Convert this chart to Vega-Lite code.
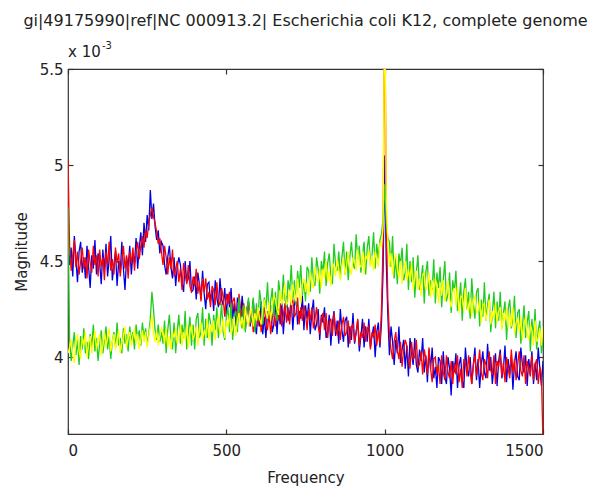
{
  "$schema": "https://vega.github.io/schema/vega-lite/v6.json",
  "width": 475,
  "height": 365,
  "autosize": {"type": "none"},
  "padding": {"left": 68, "top": 69, "right": 47, "bottom": 53},
  "background": "white",
  "title": {"text": "gi|49175990|ref|NC 000913.2| Escherichia coli K12, complete genome", "font": "DejaVu Sans", "fontSize": 16, "fontWeight": "normal", "color": "#222", "anchor": "middle", "offset": 12},
  "config": {
    "view": {"stroke": "#333", "strokeWidth": 1.2},
    "axis": {"labelFont": "DejaVu Sans", "labelFontSize": 15, "labelColor": "#222", "titleFont": "DejaVu Sans", "titleFontSize": 15, "titleFontWeight": "normal", "titleColor": "#222", "grid": false, "domain": false, "tickColor": "#333", "tickSize": -5, "tickWidth": 1.2}
  },
  "data": {"values": [
    {"f":0,"b":4.60,"r":5.03,"g":4.78,"y":4.02},
    {"f":5,"b":4.48,"r":4.58,"g":4.10,"y":4.05},
    {"f":10,"b":4.57,"r":4.45,"g":3.98,"y":4.09},
    {"f":15,"b":4.42,"r":4.53,"g":4.06,"y":4.01},
    {"f":20,"b":4.63,"r":4.61,"g":4.13,"y":3.97},
    {"f":25,"b":4.51,"r":4.47,"g":4.01,"y":4.08},
    {"f":30,"b":4.39,"r":4.55,"g":4.09,"y":4.12},
    {"f":35,"b":4.55,"r":4.43,"g":3.96,"y":4.03},
    {"f":40,"b":4.60,"r":4.50,"g":4.11,"y":3.99},
    {"f":45,"b":4.44,"r":4.57,"g":4.04,"y":4.10},
    {"f":50,"b":4.52,"r":4.46,"g":4.15,"y":4.06},
    {"f":55,"b":4.41,"r":4.52,"g":4.02,"y":4.13},
    {"f":60,"b":4.58,"r":4.41,"g":4.08,"y":4.00},
    {"f":65,"b":4.47,"r":4.56,"g":3.99,"y":4.07},
    {"f":70,"b":4.36,"r":4.49,"g":4.12,"y":4.11},
    {"f":75,"b":4.53,"r":4.44,"g":4.05,"y":4.02},
    {"f":80,"b":4.46,"r":4.58,"g":4.17,"y":4.08},
    {"f":85,"b":4.61,"r":4.48,"g":4.03,"y":4.14},
    {"f":90,"b":4.43,"r":4.53,"g":4.10,"y":4.04},
    {"f":95,"b":4.54,"r":4.42,"g":3.98,"y":4.09},
    {"f":100,"b":4.49,"r":4.56,"g":4.07,"y":4.12},
    {"f":105,"b":4.38,"r":4.47,"g":4.14,"y":4.01},
    {"f":110,"b":4.56,"r":4.52,"g":4.02,"y":4.06},
    {"f":115,"b":4.45,"r":4.40,"g":4.09,"y":4.13},
    {"f":120,"b":4.59,"r":4.55,"g":4.16,"y":4.05},
    {"f":125,"b":4.42,"r":4.48,"g":4.04,"y":4.10},
    {"f":130,"b":4.51,"r":4.60,"g":4.11,"y":4.15},
    {"f":135,"b":4.63,"r":4.45,"g":3.99,"y":4.03},
    {"f":140,"b":4.40,"r":4.51,"g":4.08,"y":4.08},
    {"f":145,"b":4.48,"r":4.43,"g":4.13,"y":4.12},
    {"f":150,"b":4.55,"r":4.57,"g":4.05,"y":4.04},
    {"f":155,"b":4.37,"r":4.49,"g":4.18,"y":4.09},
    {"f":160,"b":4.50,"r":4.54,"g":4.06,"y":4.14},
    {"f":165,"b":4.44,"r":4.42,"g":4.10,"y":4.02},
    {"f":170,"b":4.60,"r":4.50,"g":4.02,"y":4.07},
    {"f":175,"b":4.46,"r":4.58,"g":4.15,"y":4.11},
    {"f":180,"b":4.35,"r":4.46,"g":4.07,"y":4.16},
    {"f":185,"b":4.52,"r":4.53,"g":4.12,"y":4.05},
    {"f":190,"b":4.47,"r":4.41,"g":4.03,"y":4.10},
    {"f":195,"b":4.58,"r":4.55,"g":4.16,"y":4.13},
    {"f":200,"b":4.43,"r":4.49,"g":4.08,"y":4.06},
    {"f":205,"b":4.54,"r":4.57,"g":4.13,"y":4.11},
    {"f":210,"b":4.49,"r":4.45,"g":4.04,"y":4.15},
    {"f":215,"b":4.62,"r":4.55,"g":4.17,"y":4.07},
    {"f":220,"b":4.46,"r":4.60,"g":4.09,"y":4.12},
    {"f":225,"b":4.57,"r":4.51,"g":4.14,"y":4.04},
    {"f":230,"b":4.65,"r":4.58,"g":4.06,"y":4.09},
    {"f":235,"b":4.53,"r":4.63,"g":4.18,"y":4.14},
    {"f":240,"b":4.70,"r":4.57,"g":4.10,"y":4.08},
    {"f":245,"b":4.60,"r":4.66,"g":4.15,"y":4.13},
    {"f":250,"b":4.74,"r":4.62,"g":4.07,"y":4.05},
    {"f":255,"b":4.66,"r":4.70,"g":4.12,"y":4.11},
    {"f":260,"b":4.87,"r":4.74,"g":4.20,"y":4.16},
    {"f":265,"b":4.72,"r":4.78,"g":4.34,"y":4.22},
    {"f":270,"b":4.80,"r":4.73,"g":4.25,"y":4.12},
    {"f":275,"b":4.68,"r":4.70,"g":4.14,"y":4.08},
    {"f":280,"b":4.61,"r":4.65,"g":4.09,"y":4.14},
    {"f":285,"b":4.66,"r":4.59,"g":4.17,"y":4.06},
    {"f":290,"b":4.54,"r":4.62,"g":4.08,"y":4.11},
    {"f":295,"b":4.60,"r":4.55,"g":4.13,"y":4.15},
    {"f":300,"b":4.58,"r":4.48,"g":4.07,"y":4.13},
    {"f":305,"b":4.48,"r":4.58,"g":4.19,"y":4.07},
    {"f":310,"b":4.43,"r":4.52,"g":4.02,"y":4.15},
    {"f":315,"b":4.52,"r":4.43,"g":4.14,"y":4.05},
    {"f":320,"b":4.58,"r":4.52,"g":4.22,"y":4.11},
    {"f":325,"b":4.47,"r":4.46,"g":4.10,"y":4.04},
    {"f":330,"b":4.41,"r":4.56,"g":4.04,"y":4.13},
    {"f":335,"b":4.52,"r":4.42,"g":4.18,"y":4.10},
    {"f":340,"b":4.37,"r":4.46,"g":4.02,"y":4.15},
    {"f":345,"b":4.47,"r":4.50,"g":4.14,"y":4.07},
    {"f":350,"b":4.52,"r":4.39,"g":4.22,"y":4.10},
    {"f":355,"b":4.48,"r":4.46,"g":4.07,"y":4.17},
    {"f":360,"b":4.39,"r":4.35,"g":4.17,"y":4.06},
    {"f":365,"b":4.34,"r":4.49,"g":4.10,"y":4.13},
    {"f":370,"b":4.50,"r":4.43,"g":4.24,"y":4.09},
    {"f":375,"b":4.39,"r":4.38,"g":4.04,"y":4.16},
    {"f":380,"b":4.41,"r":4.48,"g":4.13,"y":4.05},
    {"f":385,"b":4.50,"r":4.37,"g":4.21,"y":4.13},
    {"f":390,"b":4.34,"r":4.34,"g":4.06,"y":4.17},
    {"f":395,"b":4.35,"r":4.42,"g":4.17,"y":4.09},
    {"f":400,"b":4.42,"r":4.37,"g":4.04,"y":4.12},
    {"f":405,"b":4.30,"r":4.46,"g":4.20,"y":4.16},
    {"f":410,"b":4.44,"r":4.33,"g":4.23,"y":4.06},
    {"f":415,"b":4.38,"r":4.39,"g":4.10,"y":4.15},
    {"f":420,"b":4.30,"r":4.29,"g":4.13,"y":4.18},
    {"f":425,"b":4.45,"r":4.41,"g":4.26,"y":4.09},
    {"f":430,"b":4.33,"r":4.34,"g":4.06,"y":4.14},
    {"f":435,"b":4.25,"r":4.41,"g":4.20,"y":4.11},
    {"f":440,"b":4.38,"r":4.30,"g":4.10,"y":4.20},
    {"f":445,"b":4.39,"r":4.34,"g":4.23,"y":4.09},
    {"f":450,"b":4.29,"r":4.26,"g":4.18,"y":4.17},
    {"f":455,"b":4.35,"r":4.37,"g":4.06,"y":4.13},
    {"f":460,"b":4.24,"r":4.35,"g":4.22,"y":4.19},
    {"f":465,"b":4.40,"r":4.27,"g":4.14,"y":4.09},
    {"f":470,"b":4.31,"r":4.39,"g":4.26,"y":4.16},
    {"f":475,"b":4.26,"r":4.29,"g":4.10,"y":4.22},
    {"f":480,"b":4.41,"r":4.27,"g":4.17,"y":4.12},
    {"f":485,"b":4.30,"r":4.36,"g":4.28,"y":4.14},
    {"f":490,"b":4.27,"r":4.31,"g":4.13,"y":4.20},
    {"f":495,"b":4.36,"r":4.21,"g":4.09,"y":4.10},
    {"f":500,"b":4.21,"r":4.33,"g":4.21,"y":4.19},
    {"f":505,"b":4.33,"r":4.28,"g":4.26,"y":4.16},
    {"f":510,"b":4.26,"r":4.34,"g":4.13,"y":4.22},
    {"f":515,"b":4.36,"r":4.21,"g":4.28,"y":4.12},
    {"f":520,"b":4.20,"r":4.29,"g":4.09,"y":4.15},
    {"f":525,"b":4.28,"r":4.31,"g":4.21,"y":4.21},
    {"f":530,"b":4.16,"r":4.23,"g":4.24,"y":4.11},
    {"f":535,"b":4.31,"r":4.19,"g":4.13,"y":4.19},
    {"f":540,"b":4.28,"r":4.33,"g":4.31,"y":4.23},
    {"f":545,"b":4.20,"r":4.25,"g":4.18,"y":4.16},
    {"f":550,"b":4.32,"r":4.21,"g":4.15,"y":4.21},
    {"f":555,"b":4.22,"r":4.28,"g":4.27,"y":4.14},
    {"f":560,"b":4.14,"r":4.17,"g":4.13,"y":4.26},
    {"f":565,"b":4.25,"r":4.24,"g":4.25,"y":4.19},
    {"f":570,"b":4.29,"r":4.29,"g":4.31,"y":4.16},
    {"f":575,"b":4.16,"r":4.17,"g":4.18,"y":4.24},
    {"f":580,"b":4.21,"r":4.24,"g":4.21,"y":4.25},
    {"f":585,"b":4.30,"r":4.13,"g":4.31,"y":4.16},
    {"f":590,"b":4.17,"r":4.21,"g":4.13,"y":4.23},
    {"f":595,"b":4.12,"r":4.25,"g":4.28,"y":4.19},
    {"f":600,"b":4.25,"r":4.16,"g":4.19,"y":4.26},
    {"f":605,"b":4.16,"r":4.24,"g":4.35,"y":4.20},
    {"f":610,"b":4.29,"r":4.13,"g":4.28,"y":4.17},
    {"f":615,"b":4.12,"r":4.21,"g":4.17,"y":4.25},
    {"f":620,"b":4.21,"r":4.26,"g":4.31,"y":4.30},
    {"f":625,"b":4.10,"r":4.18,"g":4.25,"y":4.24},
    {"f":630,"b":4.24,"r":4.14,"g":4.39,"y":4.20},
    {"f":635,"b":4.19,"r":4.23,"g":4.22,"y":4.29},
    {"f":640,"b":4.27,"r":4.12,"g":4.29,"y":4.19},
    {"f":645,"b":4.13,"r":4.20,"g":4.36,"y":4.27},
    {"f":650,"b":4.17,"r":4.25,"g":4.21,"y":4.32},
    {"f":655,"b":4.30,"r":4.16,"g":4.34,"y":4.30},
    {"f":660,"b":4.12,"r":4.23,"g":4.19,"y":4.25},
    {"f":665,"b":4.25,"r":4.19,"g":4.40,"y":4.22},
    {"f":670,"b":4.17,"r":4.28,"g":4.33,"y":4.35},
    {"f":675,"b":4.29,"r":4.16,"g":4.28,"y":4.28},
    {"f":680,"b":4.12,"r":4.22,"g":4.43,"y":4.30},
    {"f":685,"b":4.24,"r":4.28,"g":4.30,"y":4.38},
    {"f":690,"b":4.32,"r":4.18,"g":4.26,"y":4.27},
    {"f":695,"b":4.19,"r":4.26,"g":4.40,"y":4.29},
    {"f":700,"b":4.23,"r":4.17,"g":4.34,"y":4.35},
    {"f":705,"b":4.30,"r":4.28,"g":4.48,"y":4.27},
    {"f":710,"b":4.14,"r":4.30,"g":4.30,"y":4.38},
    {"f":715,"b":4.27,"r":4.21,"g":4.40,"y":4.34},
    {"f":720,"b":4.32,"r":4.23,"g":4.27,"y":4.29},
    {"f":725,"b":4.17,"r":4.31,"g":4.45,"y":4.41},
    {"f":730,"b":4.24,"r":4.17,"g":4.36,"y":4.33},
    {"f":735,"b":4.20,"r":4.26,"g":4.48,"y":4.28},
    {"f":740,"b":4.32,"r":4.19,"g":4.32,"y":4.38},
    {"f":745,"b":4.14,"r":4.27,"g":4.40,"y":4.41},
    {"f":750,"b":4.27,"r":4.23,"g":4.29,"y":4.34},
    {"f":755,"b":4.20,"r":4.14,"g":4.47,"y":4.39},
    {"f":760,"b":4.28,"r":4.25,"g":4.45,"y":4.32},
    {"f":765,"b":4.12,"r":4.19,"g":4.34,"y":4.44},
    {"f":770,"b":4.23,"r":4.26,"g":4.52,"y":4.38},
    {"f":775,"b":4.30,"r":4.15,"g":4.40,"y":4.36},
    {"f":780,"b":4.14,"r":4.20,"g":4.37,"y":4.47},
    {"f":785,"b":4.17,"r":4.26,"g":4.52,"y":4.41},
    {"f":790,"b":4.25,"r":4.16,"g":4.46,"y":4.39},
    {"f":795,"b":4.09,"r":4.12,"g":4.33,"y":4.46},
    {"f":800,"b":4.22,"r":4.20,"g":4.50,"y":4.36},
    {"f":805,"b":4.18,"r":4.23,"g":4.44,"y":4.46},
    {"f":810,"b":4.26,"r":4.14,"g":4.55,"y":4.41},
    {"f":815,"b":4.10,"r":4.23,"g":4.37,"y":4.50},
    {"f":820,"b":4.14,"r":4.10,"g":4.49,"y":4.39},
    {"f":825,"b":4.22,"r":4.18,"g":4.54,"y":4.45},
    {"f":830,"b":4.06,"r":4.20,"g":4.42,"y":4.37},
    {"f":835,"b":4.18,"r":4.11,"g":4.38,"y":4.49},
    {"f":840,"b":4.24,"r":4.23,"g":4.59,"y":4.47},
    {"f":845,"b":4.11,"r":4.14,"g":4.48,"y":4.42},
    {"f":850,"b":4.19,"r":4.12,"g":4.45,"y":4.51},
    {"f":855,"b":4.07,"r":4.19,"g":4.55,"y":4.45},
    {"f":860,"b":4.25,"r":4.09,"g":4.41,"y":4.40},
    {"f":865,"b":4.14,"r":4.17,"g":4.52,"y":4.48},
    {"f":870,"b":4.08,"r":4.21,"g":4.60,"y":4.52},
    {"f":875,"b":4.19,"r":4.11,"g":4.43,"y":4.43},
    {"f":880,"b":4.21,"r":4.13,"g":4.55,"y":4.48},
    {"f":885,"b":4.05,"r":4.19,"g":4.40,"y":4.55},
    {"f":890,"b":4.16,"r":4.07,"g":4.52,"y":4.46},
    {"f":895,"b":4.09,"r":4.16,"g":4.60,"y":4.43},
    {"f":900,"b":4.23,"r":4.17,"g":4.49,"y":4.52},
    {"f":905,"b":4.07,"r":4.08,"g":4.46,"y":4.50},
    {"f":910,"b":4.13,"r":4.13,"g":4.64,"y":4.45},
    {"f":915,"b":4.19,"r":4.20,"g":4.51,"y":4.56},
    {"f":920,"b":4.03,"r":4.06,"g":4.58,"y":4.48},
    {"f":925,"b":4.11,"r":4.13,"g":4.44,"y":4.47},
    {"f":930,"b":4.20,"r":4.10,"g":4.53,"y":4.55},
    {"f":935,"b":4.05,"r":4.18,"g":4.60,"y":4.43},
    {"f":940,"b":4.16,"r":4.08,"g":4.43,"y":4.53},
    {"f":945,"b":4.08,"r":4.15,"g":4.57,"y":4.51},
    {"f":950,"b":4.20,"r":4.16,"g":4.63,"y":4.56},
    {"f":955,"b":4.05,"r":4.04,"g":4.48,"y":4.47},
    {"f":960,"b":4.11,"r":4.13,"g":4.53,"y":4.53},
    {"f":965,"b":4.16,"r":4.10,"g":4.65,"y":4.45},
    {"f":970,"b":4.00,"r":4.17,"g":4.46,"y":4.55},
    {"f":975,"b":4.13,"r":4.06,"g":4.59,"y":4.51},
    {"f":980,"b":4.18,"r":4.14,"g":4.51,"y":4.47},
    {"f":985,"b":4.05,"r":4.07,"g":4.61,"y":4.59},
    {"f":990,"b":4.18,"r":4.25,"g":4.64,"y":4.58},
    {"f":995,"b":4.45,"r":4.60,"g":4.72,"y":4.68},
    {"f":1000,"b":5.05,"r":6.00,"g":4.90,"y":6.00},
    {"f":1005,"b":4.50,"r":4.72,"g":4.70,"y":4.82},
    {"f":1010,"b":4.22,"r":4.30,"g":4.62,"y":4.60},
    {"f":1015,"b":4.01,"r":4.12,"g":4.60,"y":4.47},
    {"f":1020,"b":4.16,"r":4.04,"g":4.47,"y":4.54},
    {"f":1025,"b":4.08,"r":3.99,"g":4.63,"y":4.43},
    {"f":1030,"b":3.96,"r":4.08,"g":4.41,"y":4.50},
    {"f":1035,"b":4.09,"r":4.13,"g":4.52,"y":4.54},
    {"f":1040,"b":4.02,"r":4.04,"g":4.38,"y":4.46},
    {"f":1045,"b":4.16,"r":3.99,"g":4.54,"y":4.41},
    {"f":1050,"b":3.97,"r":4.08,"g":4.48,"y":4.50},
    {"f":1055,"b":4.04,"r":3.95,"g":4.57,"y":4.38},
    {"f":1060,"b":4.09,"r":4.04,"g":4.40,"y":4.46},
    {"f":1065,"b":3.94,"r":4.09,"g":4.44,"y":4.50},
    {"f":1070,"b":4.06,"r":4.06,"g":4.59,"y":4.40},
    {"f":1075,"b":3.90,"r":3.98,"g":4.35,"y":4.46},
    {"f":1080,"b":4.10,"r":3.94,"g":4.50,"y":4.40},
    {"f":1085,"b":4.02,"r":4.08,"g":4.39,"y":4.49},
    {"f":1090,"b":3.96,"r":3.99,"g":4.52,"y":4.35},
    {"f":1095,"b":4.10,"r":4.00,"g":4.31,"y":4.41},
    {"f":1100,"b":3.96,"r":4.09,"g":4.44,"y":4.45},
    {"f":1105,"b":3.92,"r":3.95,"g":4.53,"y":4.35},
    {"f":1110,"b":4.04,"r":3.96,"g":4.35,"y":4.41},
    {"f":1115,"b":3.98,"r":4.03,"g":4.40,"y":4.32},
    {"f":1120,"b":4.10,"r":3.91,"g":4.48,"y":4.43},
    {"f":1125,"b":3.92,"r":4.04,"g":4.28,"y":4.44},
    {"f":1130,"b":4.01,"r":3.99,"g":4.44,"y":4.35},
    {"f":1135,"b":3.87,"r":3.91,"g":4.50,"y":4.37},
    {"f":1140,"b":4.04,"r":4.05,"g":4.32,"y":4.44},
    {"f":1145,"b":3.94,"r":3.94,"g":4.40,"y":4.31},
    {"f":1150,"b":4.05,"r":3.87,"g":4.35,"y":4.40},
    {"f":1155,"b":3.89,"r":3.99,"g":4.51,"y":4.32},
    {"f":1160,"b":3.95,"r":4.00,"g":4.28,"y":4.41},
    {"f":1165,"b":3.84,"r":3.91,"g":4.44,"y":4.37},
    {"f":1170,"b":4.00,"r":3.96,"g":4.36,"y":4.28},
    {"f":1175,"b":3.98,"r":3.86,"g":4.47,"y":4.39},
    {"f":1180,"b":3.86,"r":4.01,"g":4.26,"y":4.32},
    {"f":1185,"b":4.03,"r":3.92,"g":4.40,"y":4.40},
    {"f":1190,"b":3.90,"r":3.88,"g":4.50,"y":4.29},
    {"f":1195,"b":3.86,"r":4.01,"g":4.29,"y":4.33},
    {"f":1200,"b":4.00,"r":3.92,"g":4.33,"y":4.40},
    {"f":1205,"b":3.94,"r":3.89,"g":4.44,"y":4.30},
    {"f":1210,"b":3.80,"r":3.98,"g":4.23,"y":4.26},
    {"f":1215,"b":3.98,"r":3.86,"g":4.40,"y":4.34},
    {"f":1220,"b":3.92,"r":3.97,"g":4.34,"y":4.36},
    {"f":1225,"b":4.02,"r":3.91,"g":4.45,"y":4.27},
    {"f":1230,"b":3.84,"r":4.01,"g":4.24,"y":4.37},
    {"f":1235,"b":3.96,"r":3.87,"g":4.29,"y":4.23},
    {"f":1240,"b":4.00,"r":3.94,"g":4.39,"y":4.31},
    {"f":1245,"b":3.88,"r":3.84,"g":4.19,"y":4.32},
    {"f":1250,"b":3.84,"r":3.99,"g":4.34,"y":4.24},
    {"f":1255,"b":4.05,"r":3.97,"g":4.41,"y":4.36},
    {"f":1260,"b":3.94,"r":3.90,"g":4.25,"y":4.26},
    {"f":1265,"b":3.90,"r":4.01,"g":4.34,"y":4.24},
    {"f":1270,"b":4.00,"r":3.93,"g":4.20,"y":4.31},
    {"f":1275,"b":3.86,"r":3.86,"g":4.41,"y":4.21},
    {"f":1280,"b":3.96,"r":3.96,"g":4.28,"y":4.29},
    {"f":1285,"b":4.05,"r":4.01,"g":4.20,"y":4.32},
    {"f":1290,"b":3.88,"r":3.90,"g":4.34,"y":4.23},
    {"f":1295,"b":3.99,"r":3.95,"g":4.36,"y":4.24},
    {"f":1300,"b":3.84,"r":4.04,"g":4.16,"y":4.30},
    {"f":1305,"b":3.96,"r":3.92,"g":4.30,"y":4.18},
    {"f":1310,"b":4.03,"r":3.88,"g":4.21,"y":4.27},
    {"f":1315,"b":3.92,"r":3.99,"g":4.39,"y":4.28},
    {"f":1320,"b":3.89,"r":3.96,"g":4.19,"y":4.19},
    {"f":1325,"b":4.07,"r":3.89,"g":4.27,"y":4.24},
    {"f":1330,"b":3.93,"r":4.03,"g":4.33,"y":4.30},
    {"f":1335,"b":4.00,"r":3.93,"g":4.13,"y":4.17},
    {"f":1340,"b":3.86,"r":3.91,"g":4.23,"y":4.24},
    {"f":1345,"b":3.95,"r":4.01,"g":4.34,"y":4.20},
    {"f":1350,"b":4.02,"r":3.86,"g":4.15,"y":4.28},
    {"f":1355,"b":3.85,"r":3.98,"g":4.29,"y":4.18},
    {"f":1360,"b":3.98,"r":3.95,"g":4.19,"y":4.24},
    {"f":1365,"b":4.04,"r":4.02,"g":4.34,"y":4.26},
    {"f":1370,"b":3.89,"r":3.90,"g":4.15,"y":4.14},
    {"f":1375,"b":3.94,"r":3.97,"g":4.23,"y":4.23},
    {"f":1380,"b":4.06,"r":3.87,"g":4.29,"y":4.19},
    {"f":1385,"b":3.87,"r":4.00,"g":4.09,"y":4.26},
    {"f":1390,"b":3.99,"r":3.94,"g":4.25,"y":4.15},
    {"f":1395,"b":3.91,"r":3.89,"g":4.30,"y":4.23},
    {"f":1400,"b":4.01,"r":4.04,"g":4.15,"y":4.16},
    {"f":1405,"b":3.83,"r":3.92,"g":4.20,"y":4.26},
    {"f":1410,"b":3.97,"r":3.99,"g":4.32,"y":4.12},
    {"f":1415,"b":4.03,"r":3.88,"g":4.10,"y":4.18},
    {"f":1420,"b":3.90,"r":3.96,"g":4.23,"y":4.20},
    {"f":1425,"b":3.88,"r":4.03,"g":4.25,"y":4.13},
    {"f":1430,"b":4.05,"r":3.93,"g":4.07,"y":4.21},
    {"f":1435,"b":3.96,"r":3.90,"g":4.15,"y":4.09},
    {"f":1440,"b":3.92,"r":4.01,"g":4.27,"y":4.17},
    {"f":1445,"b":4.01,"r":3.86,"g":4.10,"y":4.21},
    {"f":1450,"b":3.85,"r":3.98,"g":4.18,"y":4.12},
    {"f":1455,"b":3.99,"r":3.94,"g":4.24,"y":4.09},
    {"f":1460,"b":3.92,"r":3.90,"g":4.03,"y":4.17},
    {"f":1465,"b":4.03,"r":4.01,"g":4.20,"y":4.14},
    {"f":1470,"b":3.86,"r":3.88,"g":4.09,"y":4.06},
    {"f":1475,"b":3.97,"r":3.96,"g":4.25,"y":4.19},
    {"f":1480,"b":3.88,"r":3.99,"g":4.04,"y":4.08},
    {"f":1485,"b":4.05,"r":3.86,"g":4.14,"y":4.10},
    {"f":1490,"b":3.94,"r":3.95,"g":4.19,"y":4.15},
    {"f":1495,"b":3.85,"r":3.91,"g":4.02,"y":4.06},
    {"f":1500,"b":3.98,"r":3.55,"g":4.10,"y":4.16}
  ]},
  "layer": [
    {
      "mark": {"type": "line", "color": "#0000e6", "strokeWidth": 1.3, "clip": true},
      "encoding": {
        "x": {"field": "f", "type": "quantitative", "scale": {"domain": [0, 1500], "nice": false}, "axis": {"values": [0, 500, 1000, 1500], "format": "d", "title": "Frequency", "labelPadding": 14, "titlePadding": 12}},
        "y": {"field": "b", "type": "quantitative", "scale": {"domain": [3.6, 5.5], "nice": false, "zero": false}, "axis": {"values": [4, 4.5, 5, 5.5], "format": ".1~f", "title": "Magnitude", "labelPadding": 10, "titlePadding": 10}}
      }
    },
    {
      "mark": {"type": "line", "color": "#ff0000", "strokeWidth": 1.3, "clip": true},
      "encoding": {
        "x": {"field": "f", "type": "quantitative", "axis": {"orient": "top", "values": [0, 500, 1000, 1500], "labels": false, "title": null}},
        "y": {"field": "r", "type": "quantitative", "axis": {"orient": "right", "values": [4, 4.5, 5, 5.5], "labels": false, "title": null}}
      }
    },
    {
      "mark": {"type": "line", "color": "#1fcc1f", "strokeWidth": 1.3, "clip": true},
      "encoding": {
        "x": {"field": "f", "type": "quantitative", "axis": null},
        "y": {"field": "g", "type": "quantitative", "axis": null}
      }
    },
    {
      "mark": {"type": "line", "color": "#ffff00", "strokeWidth": 1.3, "clip": true},
      "encoding": {
        "x": {"field": "f", "type": "quantitative", "axis": null},
        "y": {"field": "y", "type": "quantitative", "axis": null}
      }
    },
    {
      "data": {"values": [{}]},
      "mark": {"type": "text", "text": "x 10", "font": "DejaVu Sans", "fontSize": 15, "color": "#222", "align": "left", "baseline": "alphabetic", "dx": 0, "dy": -12},
      "encoding": {"x": {"datum": 0, "type": "quantitative", "axis": null}, "y": {"datum": 5.5, "type": "quantitative", "axis": null}}
    },
    {
      "data": {"values": [{}]},
      "mark": {"type": "text", "text": "-3", "font": "DejaVu Sans", "fontSize": 10, "color": "#222", "align": "left", "baseline": "alphabetic", "dx": 34, "dy": -20},
      "encoding": {"x": {"datum": 0, "type": "quantitative", "axis": null}, "y": {"datum": 5.5, "type": "quantitative", "axis": null}}
    }
  ],
  "resolve": {"axis": {"x": "independent", "y": "independent"}}
}
